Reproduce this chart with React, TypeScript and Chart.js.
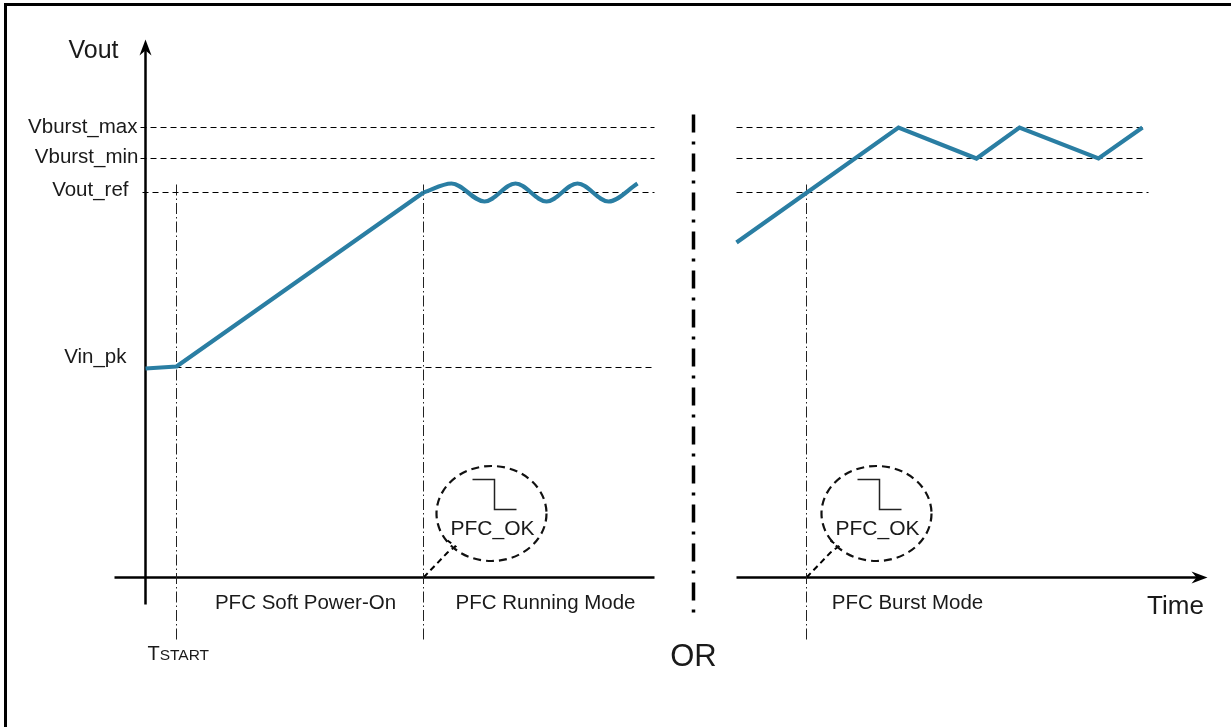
import React, { useEffect, useRef } from "react";
import { Chart, registerables } from "chart.js";

Chart.register(...registerables);

// ---- Data (time units: 0 = Vout axis; volt units: 0 = time axis) ----
const LEVEL_NAMES = ["Vburst_max", "Vburst_min", "Vout_ref", "Vin_pk"];
const LEVEL_VALUES = [450, 419, 385, 210];
const LEVEL_LABEL_T = [-8, -7, -17, -19];
const LEVEL_LABEL_DV = [0, 1, 2, 10];

const T_START = 31;
const T_RUN = 278;
const T_SEP = 548;
const T_BURST = 661;

const SOFT_T = [0, 31, 278];
const SOFT_V = [209, 211, 385];
const RUN_T = [278, 306, 339, 370, 401, 432, 463, 492];
const RUN_V = [385, 394, 376, 394, 376, 394, 376, 394];
const BURST_T = [591, 753, 831, 874, 953, 997];
const BURST_V = [335, 450, 419, 450, 419, 450];

const PHASE_LABELS = ["PFC Soft Power-On", "PFC Running Mode", "PFC Burst Mode"];
const PHASE_T = [160, 400, 762];
const PHASE_V = -26;

// extents
const LEFT_END = 509;
const RIGHT_START = 591;
const RIGHT_GRID_END = [1000, 1000, 1003];
const TIME_AXIS_LEFT = -31;
const TIME_AXIS_TIP = 1062;
const VOUT_AXIS_BOTTOM = -27;
const VOUT_AXIS_TIP = 538;
const MARKER_TOP = 393;
const MARKER_BOTTOM = -62;
const SEP_TOP = 463;
const SEP_BOTTOM = -42;

// PFC_OK bubbles
const BUBBLE_T = [346, 731];
const BUBBLE_BASE_T = [T_RUN, T_BURST];
const BUBBLE_V = 64;
const BUBBLE_RX = 55;
const BUBBLE_RY = 47.5;
const STEP_DT = [-19, 3, 3, 25];
const STEP_DV = [34, 34, 4, 4];
const TAIL_DT = [0, 24, 32, 24];
const TAIL_DV = [0, 25, 31, 37];
const LABEL_DT = 1;
const LABEL_DV = -15.5;

const BLUE = "#2a7ea3";
const INK = "#000000";
const TEXT = "#1a1a1a";
const FONT = '"Liberation Sans", Arial, sans-serif';

const pts = (ts: number[], vs: number[]) => ts.map((t, i) => ({ x: t, y: vs[i] }));

function buildDatasets() {
  const ds: any[] = [];
  const base = { pointRadius: 0, fill: false, borderCapStyle: "butt" };
  ds.push({ ...base, data: pts(SOFT_T, SOFT_V), borderColor: BLUE, borderWidth: 4.2, tension: 0, borderJoinStyle: "round" });
  ds.push({ ...base, data: pts(RUN_T, RUN_V), borderColor: BLUE, borderWidth: 4.2, cubicInterpolationMode: "monotone" });
  ds.push({ ...base, data: pts(BURST_T, BURST_V), borderColor: BLUE, borderWidth: 4.2, tension: 0, borderJoinStyle: "miter" });
  // level gridlines
  LEVEL_VALUES.forEach((v, i) => {
    const startT = i === 3 ? 0 : i === 2 ? -3 : -5;
    ds.push({ ...base, data: [{ x: startT, y: v }, { x: LEFT_END, y: v }], borderColor: INK, borderWidth: 1, borderDash: [6, 4] });
    if (i < 3) {
      ds.push({ ...base, data: [{ x: RIGHT_START, y: v }, { x: RIGHT_GRID_END[i], y: v }], borderColor: INK, borderWidth: 1, borderDash: [6, 4] });
    }
  });
  // markers
  [T_START, T_RUN, T_BURST].forEach((t) => {
    ds.push({ ...base, data: [{ x: t, y: MARKER_TOP }, { x: t, y: MARKER_BOTTOM }], borderColor: "#222", borderWidth: 1, borderDash: [11, 3, 1.5, 3] });
  });
  // separator
  ds.push({ ...base, data: [{ x: T_SEP, y: SEP_TOP }, { x: T_SEP, y: SEP_BOTTOM }], borderColor: INK, borderWidth: 3.5, borderDash: [18, 9, 3, 9] });
  // axes
  ds.push({ ...base, data: [{ x: TIME_AXIS_LEFT, y: 0 }, { x: LEFT_END, y: 0 }], borderColor: INK, borderWidth: 2.5 });
  ds.push({ ...base, data: [{ x: RIGHT_START, y: 0 }, { x: TIME_AXIS_TIP - 8, y: 0 }], borderColor: INK, borderWidth: 2.5 });
  ds.push({ ...base, data: [{ x: 0, y: VOUT_AXIS_BOTTOM }, { x: 0, y: VOUT_AXIS_TIP - 8 }], borderColor: INK, borderWidth: 2.5 });
  // bubble steps and tails
  BUBBLE_T.forEach((bt, b) => {
    ds.push({ ...base, data: STEP_DT.map((d, i) => ({ x: bt + d, y: BUBBLE_V + STEP_DV[i] })), borderColor: "#222", borderWidth: 1.5, borderJoinStyle: "miter" });
    ds.push({ ...base, data: TAIL_DT.map((d, i) => ({ x: BUBBLE_BASE_T[b] + d, y: TAIL_DV[i] })), borderColor: INK, borderWidth: 2, borderDash: [6, 4], borderJoinStyle: "miter" });
  });
  return ds;
}

const decorations = {
  id: "decorations",
  afterDatasetsDraw(chart: any) {
    const ctx = chart.ctx as CanvasRenderingContext2D;
    const xs = chart.scales.x;
    const ys = chart.scales.y;
    const px = (t: number) => xs.getPixelForValue(t);
    const py = (v: number) => ys.getPixelForValue(v);
    ctx.save();
    // frame (left and top)
    ctx.strokeStyle = "#000";
    ctx.lineWidth = 3;
    ctx.setLineDash([]);
    ctx.beginPath();
    ctx.moveTo(px(-140), py(-160));
    ctx.lineTo(px(-140), py(573));
    ctx.lineTo(px(1100), py(573));
    ctx.stroke();

    // arrowheads
    ctx.fillStyle = INK;
    const ax = px(0), ay = py(VOUT_AXIS_TIP);
    ctx.beginPath();
    ctx.moveTo(ax, ay);
    ctx.lineTo(ax - 6, ay + 16);
    ctx.lineTo(ax, ay + 11);
    ctx.lineTo(ax + 6, ay + 16);
    ctx.closePath();
    ctx.fill();
    const tx = px(TIME_AXIS_TIP), ty = py(0);
    ctx.beginPath();
    ctx.moveTo(tx, ty);
    ctx.lineTo(tx - 16, ty - 6);
    ctx.lineTo(tx - 11, ty);
    ctx.lineTo(tx - 16, ty + 6);
    ctx.closePath();
    ctx.fill();

    // bubbles
    ctx.strokeStyle = "#111";
    ctx.lineWidth = 2.2;
    ctx.setLineDash([8, 5]);
    BUBBLE_T.forEach((bt) => {
      const cx = px(bt), cy = py(BUBBLE_V);
      const rx = Math.abs(px(bt + BUBBLE_RX) - cx);
      const ry = Math.abs(py(BUBBLE_V + BUBBLE_RY) - cy);
      ctx.beginPath();
      ctx.ellipse(cx, cy, rx, ry, 0, 0, Math.PI * 2);
      ctx.stroke();
    });
    ctx.setLineDash([]);

    // texts
    const text = (s: string, x: number, y: number, size: number, align: CanvasTextAlign) => {
      ctx.font = `${size}px ${FONT}`;
      ctx.textAlign = align;
      ctx.textBaseline = "middle";
      ctx.fillStyle = TEXT;
      ctx.fillText(s, x, y);
    };
    text("Vout", px(-52), py(526), 25, "center");
    LEVEL_NAMES.forEach((n, i) => {
      text(n, px(LEVEL_LABEL_T[i]), py(LEVEL_VALUES[i] + LEVEL_LABEL_DV[i]), 20.5, "right");
    });
    PHASE_LABELS.forEach((n, i) => text(n, px(PHASE_T[i]), py(PHASE_V), 20.5, "center"));
    BUBBLE_T.forEach((bt) => text("PFC_OK", px(bt + LABEL_DT), py(BUBBLE_V + LABEL_DV), 21, "center"));
    text("Time", px(1030), py(-29), 26, "center");
    text("OR", px(T_SEP), py(-80), 31, "center");
    // TSTART small caps
    ctx.textAlign = "left";
    ctx.textBaseline = "alphabetic";
    ctx.fillStyle = TEXT;
    const sx = px(T_START - 29), sy = py(-82);
    ctx.font = `20px ${FONT}`;
    ctx.fillText("T", sx, sy);
    const w = ctx.measureText("T").width;
    ctx.font = `15.5px ${FONT}`;
    ctx.fillText("START", sx + w, sy);
    ctx.restore();
  },
};

export default function App() {
  const ref = useRef<HTMLCanvasElement>(null);
  useEffect(() => {
    if (!ref.current) return;
    const chart = new Chart(ref.current, {
      type: "line",
      data: { datasets: buildDatasets() },
      options: {
        animation: false,
        responsive: false,
        events: [],
        layout: { padding: 0 },
        plugins: { legend: { display: false }, tooltip: { enabled: false } },
        scales: {
          x: { type: "linear", min: -145.5, max: 1085.5, display: false },
          y: { type: "linear", min: -149.5, max: 577.5, display: false },
        },
      },
      plugins: [decorations],
    });
    return () => chart.destroy();
  }, []);
  return (
    <div style={{ position: "fixed", left: 0, top: 0, width: 1231, height: 727, background: "#fff" }}>
      <canvas ref={ref} width={1231} height={727} style={{ width: 1231, height: 727, display: "block" }} />
    </div>
  );
}
